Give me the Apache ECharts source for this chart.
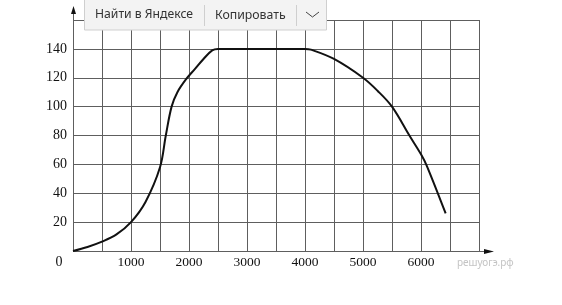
<!DOCTYPE html>
<html><head><meta charset="utf-8">
<script src="https://cdn.jsdelivr.net/npm/echarts@6/dist/echarts.min.js"></script>
<style>html,body{margin:0;padding:0;background:#fff}#c{width:562px;height:305px}</style>
</head><body><div id="c"></div>
<script>
// engine speed (rpm) and power values
const rpm   = [0, 250, 500, 750, 1000, 1250, 1500, 1600, 1700, 1800, 1950, 2100, 2250, 2400, 2500, 3000, 3500, 4000, 4100, 4500, 5000, 5250, 5500, 5800, 6000, 6100, 6425];
const power = [0, 2.8, 6.5, 11.5, 20, 34, 58, 80, 100, 110, 119, 126, 133, 139, 140, 140, 140, 140, 139.5, 133, 120, 111, 100, 80, 67, 59, 26];
const xTickLabels = [1000, 2000, 3000, 4000, 5000, 6000];
const yTickLabels = [20, 40, 60, 80, 100, 120, 140];
const menuItems = ['Найти в Яндексе', 'Копировать'];
const watermark = 'решуогэ.рф';

const gridColor = '#5e5e5e';
const serif = 'Liberation Serif, Times New Roman, serif';

const chart = echarts.init(document.getElementById('c'), null, {renderer: 'canvas'});
const pts = rpm.map((x, i) => [x, power[i]]);

chart.setOption({
  animation: false,
  backgroundColor: '#fff',
  grid: {left: 73, top: 20, right: 83, bottom: 54, containLabel: false},
  xAxis: {
    type: 'value', min: 0, max: 7000, interval: 500,
    axisLine: {show: false}, axisTick: {show: false},
    splitLine: {show: true, lineStyle: {color: gridColor, width: 1}},
    axisLabel: {
      margin: 4, color: '#111', fontFamily: serif, fontSize: 13.5,
      formatter: v => v === 0 ? '{z|0}' : (xTickLabels.includes(v) ? String(v) : ''),
      rich: {z: {fontFamily: serif, fontSize: 14, color: '#111', padding: [0, 28, 0, 0]}}
    }
  },
  yAxis: {
    type: 'value', min: 0, max: 160, interval: 20,
    axisLine: {show: false}, axisTick: {show: false},
    splitLine: {show: true, lineStyle: {color: gridColor, width: 1}},
    axisLabel: {
      margin: 6, color: '#111', fontFamily: serif, fontSize: 14,
      padding: [0, 0, 7, 0],
      formatter: v => yTickLabels.includes(v) ? String(v) : ''
    }
  },
  series: [{
    type: 'line', data: pts, smooth: 0.35,
    showSymbol: false, lineStyle: {color: '#111', width: 2}
  }]
});

const o = chart.convertToPixel({xAxisIndex: 0, yAxisIndex: 0}, [0, 160]);
const e = chart.convertToPixel({xAxisIndex: 0, yAxisIndex: 0}, [7000, 0]);
const ox = Math.round(o[0]) + 0.5, oy = o[1];
const ex = e[0], ey = Math.round(e[1]) + 0.5;

chart.setOption({
  graphic: [
    {type: 'line', shape: {x1: ox, y1: oy, x2: ox, y2: oy - 10}, style: {stroke: gridColor, lineWidth: 1}},
    {type: 'polygon', shape: {points: [[ox, oy - 14], [ox - 2.5, oy - 6], [ox + 2.5, oy - 6]]}, style: {fill: '#111'}},
    {type: 'line', shape: {x1: ex, y1: ey, x2: ex + 8, y2: ey}, style: {stroke: gridColor, lineWidth: 1}},
    {type: 'polygon', shape: {points: [[ex + 15, ey], [ex + 5, ey - 2.5], [ex + 5, ey + 2.5]]}, style: {fill: '#111'}},
    {type: 'text', left: 457, top: 258, style: {text: watermark, fill: '#c4c4c4', font: '10px "Noto Sans", sans-serif'}},
    // context menu overlay
    {type: 'rect', shape: {x: 84.5, y: -1, width: 242, height: 31}, style: {fill: '#f3f3f3', stroke: '#cfcfcf', lineWidth: 1}},
    {type: 'text', x: 95, y: 15, style: {text: menuItems[0], fill: '#333', font: '12.2px "Noto Sans", sans-serif', textVerticalAlign: 'middle'}},
    {type: 'line', shape: {x1: 204.5, y1: 5, x2: 204.5, y2: 26}, style: {stroke: '#cfcfcf', lineWidth: 1}},
    {type: 'text', x: 215, y: 15, style: {text: menuItems[1], fill: '#333', font: '12.3px "Noto Sans", sans-serif', textVerticalAlign: 'middle'}},
    {type: 'line', shape: {x1: 296.5, y1: 5, x2: 296.5, y2: 26}, style: {stroke: '#cfcfcf', lineWidth: 1}},
    {type: 'polyline', shape: {points: [[306, 12], [312.5, 17], [319, 12]]}, style: {stroke: '#444', lineWidth: 1, fill: null}}
  ]
});
</script>
</body></html>
